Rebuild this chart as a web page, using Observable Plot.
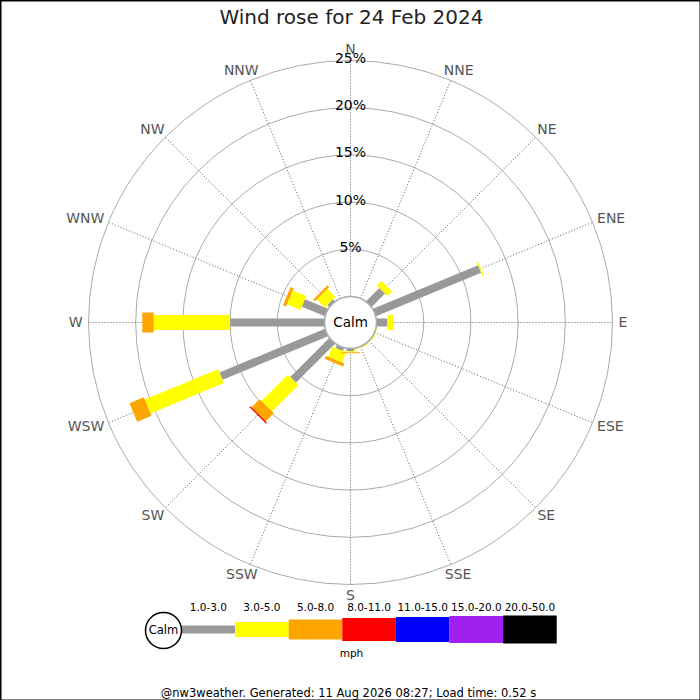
<!DOCTYPE html>
<html>
<head>
<meta charset="utf-8">
<script src="https://cdn.jsdelivr.net/npm/d3@7"></script>
<script src="https://cdn.jsdelivr.net/npm/@observablehq/plot@0.6"></script>
<style>
  body { margin: 0; background: #fff; }
  #chart svg { display: block; }
</style>
</head>
<body>
<div id="chart"></div>
<script>
// wind directions, clockwise from north
const directions = ["N","NNE","NE","ENE","E","ESE","SE","SSE","S","SSW","SW","WSW","W","WNW","NW","NNW"];

// percentage of the day in each speed band (mph), per direction
const band1to3   = [0, 0, 2.0, 12.05, 1.15, 0, 0, 0, 0.3, 0.35, 5.85, 12.1, 10.0, 2.65, 0.3, 0];
const band3to5   = [0, 0, 0.7, 0.15, 0.65, 0.1, 0.1, 0.1, 0.1, 1.15, 3.95, 8.4, 8.1, 1.55, 1.2, 0];
const band5to8   = [0, 0, 0, 0, 0, 0, 0, 0, 0.1, 0.35, 1.2, 1.65, 1.2, 0.35, 0.25, 0];
const band8to11  = [0, 0, 0, 0, 0, 0, 0, 0, 0, 0, 0.15, 0, 0, 0, 0, 0];

const bandLabels = ["1.0-3.0","3.0-5.0","5.0-8.0","8.0-11.0","11.0-15.0","15.0-20.0","20.0-50.0"];
const bandColors = ["#999999","#ffff00","#ffa500","#ff0000","#0000ff","#a020f0","#000000"];
const bandWidths = [8, 15, 20, 23, 25, 27, 28];

const ringPcts = [5, 10, 15, 20, 25];

const font = "DejaVu Sans";
const rad = d3.scaleLinear().domain([0, 25]).range([26, 262]);
const toRad = i => i * 22.5 * Math.PI / 180;

// stacked segments
const series = [band1to3, band3to5, band5to8, band8to11];
const segments = series.map(() => []);
directions.forEach((dir, i) => {
  let cum = 0;
  series.forEach((vals, b) => {
    const v = vals[i];
    if (v > 0) {
      const a = toRad(i), r0 = rad(cum), r1 = rad(cum + v);
      segments[b].push({dir, x1: r0 * Math.sin(a), y1: r0 * Math.cos(a), x2: r1 * Math.sin(a), y2: r1 * Math.cos(a)});
    }
    cum += v;
  });
});

const spokes = directions.map((d, i) => ({
  x1: rad(0) * Math.sin(toRad(i)), y1: rad(0) * Math.cos(toRad(i)),
  x2: rad(25) * Math.sin(toRad(i)), y2: rad(25) * Math.cos(toRad(i))
}));

// compass labels sit just outside the outer ring, pushed out by half their size
const ctx = document.createElement("canvas").getContext("2d");
ctx.font = `14px '${font}'`;
const dirLabels = directions.map((d, i) => {
  const s = Math.sin(toRad(i)), c = Math.cos(toRad(i));
  const w = ctx.measureText(d).width;
  return {name: d, x: 268 * s + s * w / 2, y: 268 * c + c * 5};
});

// legend
const legY = -307, legX0 = -169, legStep = 53.6;
const legend = bandLabels.map((label, i) => ({
  label, color: bandColors[i], w: bandWidths[i],
  x1: legX0 + i * legStep, x2: legX0 + (i + 1) * legStep
}));

const chart = Plot.plot({
  width: 700,
  height: 700,
  margin: 0,
  style: {fontFamily: font, background: "white"},
  x: {domain: [-350, 350], axis: null},
  y: {domain: [-378, 322], axis: null},
  marks: [
    ...ringPcts.map(p => Plot.dot([p], {x: 0, y: 0, r: rad(p), fill: "none", stroke: "#aaa", strokeWidth: 1})),
    Plot.link(spokes, {x1: "x1", y1: "y1", x2: "x2", y2: "y2", stroke: "#333", strokeWidth: 0.8, strokeDasharray: "1,2"}),
    ...segments.map((segs, b) => Plot.link(segs, {
      x1: "x1", y1: "y1", x2: "x2", y2: "y2",
      stroke: bandColors[b], strokeWidth: bandWidths[b], strokeLinecap: "butt"
    })),
    Plot.dot([0], {x: 0, y: 0, r: rad(0), fill: "white", stroke: "#aaa"}),
    Plot.text(["Calm"], {x: 0, y: 0, text: d => d, fontSize: 13.5, fill: "black"}),
    Plot.text(ringPcts, {x: 0, y: d => rad(d) + 2, text: d => d + "%", fontSize: 14, fill: "black"}),
    Plot.text(dirLabels, {x: "x", y: "y", text: "name", fontSize: 14, fill: "#555"}),
    // title
    Plot.text(["Wind rose for 24 Feb 2024"], {x: 1, y: 305, text: d => d, fontSize: 20, fill: "#222"}),
    // legend
    Plot.link(legend, {x1: "x1", x2: "x2", y1: legY, y2: legY, stroke: "color", strokeWidth: "w", strokeLinecap: "butt"}),
    Plot.dot([0], {x: legX0 - 18, y: legY - 1, r: 18, fill: "white", stroke: "black"}),
    Plot.text(["Calm"], {x: legX0 - 18, y: legY - 1, text: d => d, fontSize: 11.5, fill: "black"}),
    Plot.text(legend, {x: d => (d.x1 + d.x2) / 2, y: -285, text: "label", fontSize: 10.5, fill: "black"}),
    Plot.text(["mph"], {x: 1, y: -331, text: d => d, fontSize: 10.5, fill: "black"}),
    Plot.text(["@nw3weather. Generated: 11 Aug 2026 08:27; Load time: 0.52 s"], {x: -2, y: -371, text: d => d, fontSize: 11.5, fill: "black"}),
    Plot.frame({stroke: "black", strokeWidth: 2})
  ]
});
document.getElementById("chart").append(chart);
</script>
</body>
</html>
